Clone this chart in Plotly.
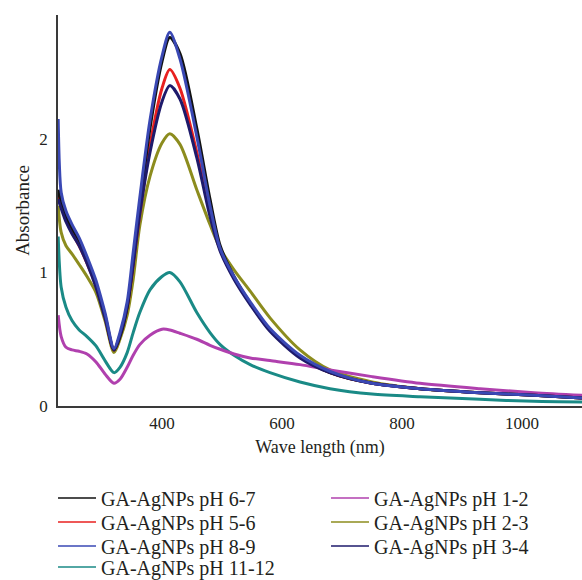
import plotly.graph_objects as go

# Wavelength grid (nm)
wavelength = [227, 232, 240, 250, 262, 275, 290, 305, 320, 330, 342, 352, 363, 380,
              400, 413, 430, 458, 480, 497, 520, 547, 580, 630, 680, 750, 830, 930, 1020, 1100]

abs_ph67 = [1.62, 1.52, 1.42, 1.33, 1.24, 1.10, 0.91, 0.68, 0.42, 0.52, 0.74, 1.08, 1.50, 2.08,
            2.58, 2.76, 2.64, 2.08, 1.55, 1.20, 0.97, 0.77, 0.57, 0.37, 0.25, 0.17, 0.13, 0.10, 0.08, 0.06]
abs_ph56 = [1.58, 1.50, 1.40, 1.30, 1.20, 1.07, 0.90, 0.67, 0.42, 0.53, 0.74, 1.06, 1.44, 1.95,
            2.38, 2.52, 2.38, 1.90, 1.45, 1.17, 0.96, 0.77, 0.57, 0.37, 0.25, 0.17, 0.13, 0.10, 0.08, 0.06]
abs_ph89 = [2.15, 1.60, 1.46, 1.36, 1.26, 1.12, 0.94, 0.70, 0.43, 0.55, 0.78, 1.15, 1.56, 2.14,
            2.62, 2.80, 2.60, 2.02, 1.50, 1.18, 0.97, 0.78, 0.58, 0.38, 0.26, 0.17, 0.13, 0.10, 0.08, 0.06]
abs_ph1112 = [1.27, 0.89, 0.74, 0.64, 0.57, 0.52, 0.45, 0.34, 0.25, 0.29, 0.40, 0.55, 0.70, 0.87,
              0.97, 1.00, 0.93, 0.70, 0.55, 0.46, 0.38, 0.31, 0.25, 0.18, 0.13, 0.09, 0.07, 0.05, 0.035, 0.03]
abs_ph12 = [0.68, 0.52, 0.44, 0.42, 0.41, 0.39, 0.33, 0.24, 0.17, 0.20, 0.29, 0.38, 0.46, 0.53,
            0.575, 0.57, 0.545, 0.50, 0.455, 0.425, 0.39, 0.36, 0.34, 0.31, 0.27, 0.22, 0.17, 0.13, 0.10, 0.08]
abs_ph23 = [1.50, 1.30, 1.20, 1.14, 1.06, 0.97, 0.85, 0.64, 0.40, 0.50, 0.68, 0.95, 1.35, 1.72,
            1.97, 2.04, 1.96, 1.62, 1.36, 1.18, 1.02, 0.86, 0.66, 0.42, 0.27, 0.18, 0.13, 0.10, 0.08, 0.06]
abs_ph34 = [1.55, 1.48, 1.38, 1.29, 1.20, 1.07, 0.89, 0.66, 0.42, 0.53, 0.75, 1.06, 1.44, 1.90,
            2.28, 2.40, 2.30, 1.86, 1.42, 1.16, 0.95, 0.76, 0.56, 0.36, 0.25, 0.17, 0.13, 0.10, 0.08, 0.06]

x_ticks = [400, 600, 800, 1000]
y_ticks = [0, 1, 2]

# name, values, colour, legend id, legend rank ; listed in drawing order
series = [
    ("GA-AgNPs pH 2-3", abs_ph23, "#8c8c1e", "legend2", 4),
    ("GA-AgNPs pH 11-12", abs_ph1112, "#1a8a86", "legend4", 7),
    ("GA-AgNPs pH 1-2", abs_ph12, "#b040ae", "legend", 2),
    ("GA-AgNPs pH 5-6", abs_ph56, "#e8201f", "legend2", 3),
    ("GA-AgNPs pH 6-7", abs_ph67, "#111111", "legend", 1),
    ("GA-AgNPs pH 3-4", abs_ph34, "#1e1a6b", "legend3", 6),
    ("GA-AgNPs pH 8-9", abs_ph89, "#3a48b4", "legend3", 5),
]

fig = go.Figure()
for name, vals, col, leg, rank in series:
    fig.add_trace(go.Scatter(
        x=wavelength, y=vals, mode="lines", name=name, legendgroup=name,
        line=dict(color=col, width=3, shape="spline", smoothing=0.8),
        showlegend=False,
    ))
# legend entries (thin sample lines), linked to the curves via legendgroup
for name, vals, col, leg, rank in series:
    fig.add_trace(go.Scatter(
        x=[None], y=[None], mode="lines", name=name, legendgroup=name,
        line=dict(color=col, width=1.6), legend=leg, legendrank=rank,
        showlegend=True, hoverinfo="skip",
    ))

FONT = "Liberation Serif"
TXT = "#231f20"

def row_legend(yc):
    return dict(
        orientation="h", x=-0.0095, xanchor="left", y=yc, yanchor="middle",
        entrywidth=220, itemwidth=38, bgcolor="rgba(0,0,0,0)",
        font=dict(family=FONT, size=20, color=TXT), traceorder="normal",
    )

fig.update_layout(
    width=582, height=580,
    margin=dict(l=58, r=0, t=15, b=174, autoexpand=False),
    paper_bgcolor="white", plot_bgcolor="white",
    font=dict(family=FONT, color=TXT, size=17),
    showlegend=True,
    legend=row_legend(-0.2353),
    legend2=row_legend(-0.2967),
    legend3=row_legend(-0.358),
    legend4=row_legend(-0.4118),
    xaxis=dict(
        range=[226.7, 1100], tickvals=x_ticks, showgrid=False, zeroline=False,
        showline=True, linecolor="#3a3a3a", linewidth=1.5, ticks="",
        ticklabelstandoff=1, tickfont=dict(family=FONT, size=17, color=TXT),
        title=dict(text="Wave length (nm)", font=dict(family=FONT, size=18, color=TXT), standoff=8),
        automargin=False,
    ),
    yaxis=dict(
        range=[0, 2.929], tickvals=y_ticks, showgrid=False, zeroline=False,
        showline=True, linecolor="#3a3a3a", linewidth=1.5, ticks="",
        ticklabelstandoff=5, tickfont=dict(family=FONT, size=17, color=TXT),
        title=dict(text="Absorbance", font=dict(family=FONT, size=19, color=TXT), standoff=5),
        automargin=False,
    ),
)

fig.write_html("out.html")
